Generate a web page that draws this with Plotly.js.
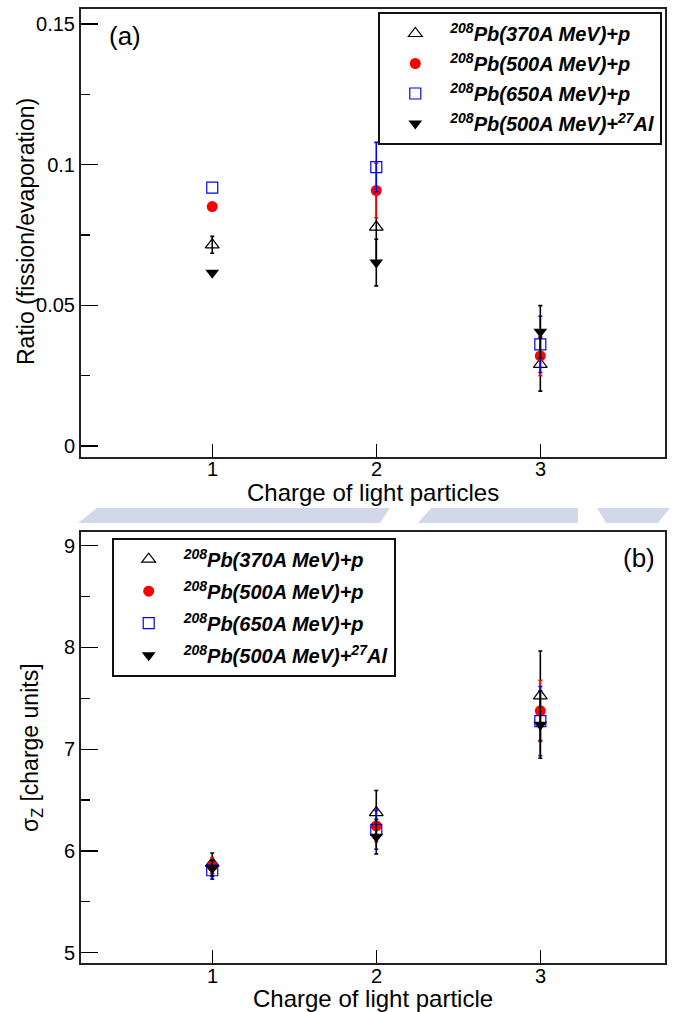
<!DOCTYPE html>
<html>
<head>
<meta charset="utf-8">
<script src="https://cdn.plot.ly/plotly-3.0.1.min.js"></script>
<style>html,body{margin:0;padding:0;background:#fff;}#chart{width:677px;height:1012px;}</style>
</head>
<body>
<div id="chart"></div>
<script>
// ---------- data ----------
var charge = [1, 2, 3];
var tickLabelsX = ['1', '2', '3'];

var seriesNames = [
  '<sup>208</sup>Pb(370A MeV)+p',
  '<sup>208</sup>Pb(500A MeV)+p',
  '<sup>208</sup>Pb(650A MeV)+p',
  '<sup>208</sup>Pb(500A MeV)+<sup>27</sup>Al'
];

// panel (a): ratio fission / evaporation  (NaN = error bar hidden behind marker)
var ratio370 = [0.0715, 0.0778, 0.0290];
var ratio370Err = [0.0030, 0.0120, 0.0095];
var ratio500 = [0.0851, 0.0908, 0.0320];
var ratio500Err = [NaN, 0.0097, 0.0070];
var ratio650 = [0.0918, 0.0991, 0.0361];
var ratio650Err = [NaN, 0.0088, 0.0100];
var ratioAl = [0.0616, 0.0652, 0.0406];
var ratioAlErr = [NaN, 0.0083, 0.0093];

// panel (b): sigma_Z [charge units]
var sigma370 = [5.88, 6.377, 7.524];
var sigma370Err = [0.10, 0.216, 0.44];
var sigma500 = [5.854, 6.246, 7.376];
var sigma500Err = [0.08, 0.155, 0.30];
var sigma650 = [5.81, 6.207, 7.275];
var sigma650Err = [0.087, 0.19, 0.34];
var sigmaAl = [5.83, 6.14, 7.24];
var sigmaAlErr = [0.08, 0.17, 0.33];

// ---------- styles ----------
var FONT = 'Liberation Sans, Arial, Helvetica, sans-serif';
var styles = [
  {symbol: 'triangle-up-open', color: '#000000', size: 12, lw: 1.2, err: '#000000'},
  {symbol: 'circle', color: '#ff0000', size: 11, lw: 0, err: '#ff0000'},
  {symbol: 'square-open', color: '#0000ff', size: 11, lw: 1.2, err: '#0000ff'},
  {symbol: 'triangle-down', color: '#000000', size: 12, lw: 0, err: '#000000'}
];

function makeTrace(i, y, err, xa, ya, legendId, group) {
  var s = styles[i];
  return {
    type: 'scatter', mode: 'markers',
    x: charge, y: y,
    xaxis: xa, yaxis: ya,
    name: seriesNames[i],
    legend: legendId,
    legendgroup: group + i,
    marker: {symbol: s.symbol, color: s.color, size: s.size,
             line: {color: s.color, width: s.lw}},
    error_y: {type: 'data', array: err, visible: true,
              color: s.err, thickness: 1.6, width: 2},
    hoverinfo: 'x+y'
  };
}

var traces = [
  makeTrace(0, ratio370, ratio370Err, 'x', 'y', 'legend', 'a'),
  makeTrace(1, ratio500, ratio500Err, 'x', 'y', 'legend', 'a'),
  makeTrace(2, ratio650, ratio650Err, 'x', 'y', 'legend', 'a'),
  makeTrace(3, ratioAl, ratioAlErr, 'x', 'y', 'legend', 'a'),
  makeTrace(0, sigma370, sigma370Err, 'x2', 'y2', 'legend2', 'b'),
  makeTrace(1, sigma500, sigma500Err, 'x2', 'y2', 'legend2', 'b'),
  makeTrace(2, sigma650, sigma650Err, 'x2', 'y2', 'legend2', 'b'),
  makeTrace(3, sigmaAl, sigmaAlErr, 'x2', 'y2', 'legend2', 'b')
];

var W = 677, H = 1012;
function px(x) { return x / W; }
function py(y) { return 1 - y / H; }

function xAxis(anchor) {
  return {
    anchor: anchor,
    range: [0.2, 3.76],
    tickvals: charge, ticktext: tickLabelsX,
    showticklabels: false,
    ticks: 'inside', ticklen: 13, tickwidth: 1.2, tickcolor: '#000',
    showline: true, linecolor: '#222', linewidth: 2, mirror: true,
    showgrid: false, zeroline: false,
    domain: [px(81), px(665)]
  };
}

function yAxis(anchor, dom, range, tick0, dtick, minorDtick) {
  return {
    anchor: anchor,
    domain: dom,
    range: range,
    tick0: tick0, dtick: dtick,
    ticks: 'inside', ticklen: 17, tickwidth: 1.2, tickcolor: '#000',
    minor: {ticks: 'inside', ticklen: 9, dtick: minorDtick, tick0: tick0,
            tickwidth: 1.2, tickcolor: '#000', showgrid: false},
    showline: true, linecolor: '#222', linewidth: 2, mirror: true,
    showgrid: false, zeroline: false,
    tickfont: {family: FONT, size: 20, color: '#000'}
  };
}

var legendFont = {family: FONT, size: 20, color: '#000', weight: 'bold', style: 'italic'};
var titleFont = {family: FONT, size: 24, color: '#000'};
var tickFont = {family: FONT, size: 20, color: '#000'};

var annotations = [
  {text: 'Charge of light particles', xref: 'paper', yref: 'paper',
   x: px(373), y: py(493), xanchor: 'center', yanchor: 'middle',
   showarrow: false, font: titleFont, borderpad: 0},
  {text: 'Charge of light particle', xref: 'paper', yref: 'paper',
   x: px(373), y: py(998.5), xanchor: 'center', yanchor: 'middle',
   showarrow: false, font: titleFont, borderpad: 0},
  {text: 'Ratio (fission/evaporation)', xref: 'paper', yref: 'paper',
   x: px(26), y: py(232), xanchor: 'center', yanchor: 'middle', textangle: -90,
   showarrow: false, font: {family: FONT, size: 23, color: '#000'}},
  {text: 'σ<sub>Z</sub> [charge units]', xref: 'paper', yref: 'paper',
   x: px(31), y: py(748), xanchor: 'center', yanchor: 'middle', textangle: -90,
   showarrow: false, font: {family: FONT, size: 23, color: '#000'}},
  {text: '(a)', xref: 'paper', yref: 'paper', x: px(107), y: py(36.5),
   xanchor: 'left', yanchor: 'middle', showarrow: false,
   font: {family: FONT, size: 26, color: '#000'}},
  {text: '(b)', xref: 'paper', yref: 'paper', x: px(657), y: py(557.5),
   xanchor: 'right', yanchor: 'middle', showarrow: false,
   font: {family: FONT, size: 26, color: '#000'}}
];

// x tick labels placed on the data scale of each x axis
[['x', 469], ['x2', 975.5]].forEach(function (ax) {
  charge.forEach(function (c, i) {
    annotations.push({text: tickLabelsX[i], xref: ax[0], yref: 'paper',
      x: c, y: py(ax[1]), xanchor: 'center', yanchor: 'middle',
      showarrow: false, font: tickFont, borderpad: 0});
  });
});

var layout = {
  width: W, height: H,
  margin: {l: 0, r: 0, t: 0, b: 0},
  paper_bgcolor: '#ffffff',
  plot_bgcolor: 'rgba(0,0,0,0)',
  showlegend: true,
  xaxis: xAxis('y'),
  xaxis2: xAxis('y2'),
  yaxis: yAxis('x', [py(456.7), py(9.3)], [-0.0038, 0.1552], 0, 0.05, 0.025),
  yaxis2: yAxis('x2', [py(963.3), py(532.3)], [4.896, 9.13], 5, 1, 0.5),
  legend: {
    x: px(378.3), y: py(12), xanchor: 'left', yanchor: 'top',
    xref: 'paper', yref: 'paper',
    bgcolor: '#ffffff', bordercolor: '#111', borderwidth: 2,
    itemwidth: 60, tracegroupgap: 1, traceorder: 'grouped',
    font: legendFont
  },
  legend2: {
    x: px(111.7), y: py(537.7), xanchor: 'left', yanchor: 'top',
    xref: 'paper', yref: 'paper',
    bgcolor: '#ffffff', bordercolor: '#111', borderwidth: 2,
    itemwidth: 60, tracegroupgap: 3, traceorder: 'grouped',
    font: legendFont
  },
  annotations: annotations,
  shapes: []
};

// faint background watermark band between the panels
var wmColor = 'rgb(210,216,234)';
var wmPieces = [
  [[78, 523], [97, 508], [390, 508], [380, 523]],
  [[418, 523], [431, 508], [578, 508], [578, 523]],
  [[606, 523], [597, 508], [670, 508], [658, 523]]
];
wmPieces.forEach(function (p) {
  var d = 'M' + p.map(function (q) { return px(q[0]) + ',' + py(q[1]); }).join(' L') + ' Z';
  layout.shapes.push({type: 'path', xref: 'paper', yref: 'paper', path: d,
    fillcolor: wmColor, line: {width: 0}, layer: 'below'});
});

Plotly.newPlot('chart', traces, layout, {displayModeBar: false, staticPlot: true});
</script>
</body>
</html>
